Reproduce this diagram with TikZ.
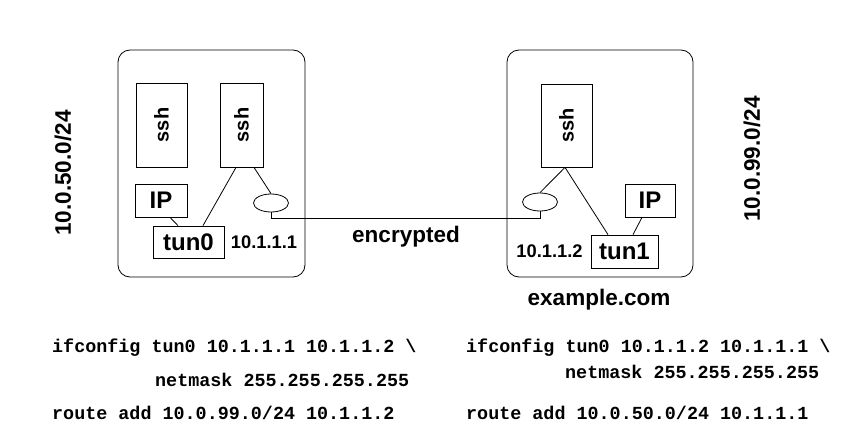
\documentclass[tikz,border=0pt]{standalone}
\usepackage{fontspec}
\setsansfont{Liberation Sans}
\setmonofont{Liberation Mono}
\usepackage{tikz}
\usetikzlibrary{shapes.geometric}

\begin{document}
\begin{tikzpicture}[
  x=1pt, y=-1pt,
  host/.style={draw, rectangle, rounded corners=12pt, line width=0.8pt,
               inner sep=0pt},
  box/.style={draw, rectangle, line width=0.8pt, inner sep=0pt,
              font=\sffamily\bfseries\fontsize{24}{28}\selectfont},
  proc/.style={box, font=\sffamily\bfseries\fontsize{20}{24}\selectfont},
  sock/.style={draw, ellipse, line width=0.8pt, minimum width=35pt,
               minimum height=18pt, inner sep=0pt},
  addr/.style={font=\sffamily\bfseries\fontsize{18.3}{22}\selectfont},
  lbl/.style={font=\sffamily\bfseries\fontsize{22.5}{27}\selectfont},
  cmd/.style={anchor=west, inner sep=0pt,
              font=\ttfamily\bfseries\fontsize{18.4}{22}\selectfont},
  link/.style={line width=0.8pt}
]
\useasboundingbox (0,0) rectangle (848,444);

%% ---- hosts ----
\node[host, minimum width=187, minimum height=227] (hostL) at (211.5,163.5) {};
\node[host, minimum width=186, minimum height=227] (hostR) at (600,163.5) {};

%% ---- left host ----
\node[proc, minimum width=51, minimum height=84] (sshA) at (161.5,125) {\rotatebox{90}{ssh}};
\node[proc, minimum width=43, minimum height=84] (sshB) at (241.5,125) {\rotatebox{90}{ssh}};
\node[box, minimum width=52, minimum height=33] (ipL) at (161,200.5) {IP};
\node[box, minimum width=71, minimum height=32] (tunL) at (188.5,242) {tun0};
\node[sock] (sockL) at (271,203) {};
\node[addr] (addrL) at (264,242) {10.1.1.1};

%% ---- right host ----
\node[proc, minimum width=51, minimum height=83] (sshR) at (566.5,125.5) {\rotatebox{90}{ssh}};
\node[box, minimum width=50, minimum height=33] (ipR) at (650,200.5) {IP};
\node[box, minimum width=67, minimum height=33] (tunR) at (624.5,251.5) {tun1};
\node[sock] (sockR) at (540,202) {};
\node[addr] (addrR) at (549.5,251) {10.1.1.2};

%% ---- labels ----
\node[lbl, rotate=90] (netL) at (63,173) {10.0.50.0/24};
\node[lbl, rotate=90] (netR) at (752,159) {10.0.99.0/24};
\node[lbl] (enc) at (406,237) {encrypted};
\node[lbl] (name) at (599,300) {example.com};

%% ---- links inside the hosts ----
\draw[link] ([xshift=-5.5]sshB.south) -- ([xshift=14.5]tunL.north);
\draw[link] ([xshift=12.5]sshB.south) -- (sockL.north);
\draw[link] ([xshift=9]ipL.south) -- ([xshift=-10.5]tunL.north);

\draw[link] ([xshift=-1.5]sshR.south) -- ([xshift=-16.5]tunR.north);
\draw[link] ([xshift=-1.5]sshR.south) -- (sockR.north);
\draw[link] ([xshift=-8]ipR.south) -- ([xshift=8.5]tunR.north);

%% ---- encrypted channel ----
\draw[link] (sockL.south) -- ++(0,6) -| (sockR.south);

%% ---- commands ----
\node[cmd] (cfgL) at (52,348) {ifconfig tun0 10.1.1.1 10.1.1.2 \textbackslash};
\node[cmd] (maskL) at (155,380) {netmask 255.255.255.255};
\node[cmd] (routeL) at (52,413) {route add 10.0.99.0/24 10.1.1.2};

\node[cmd] (cfgR) at (466,348) {ifconfig tun0 10.1.1.2 10.1.1.1 \textbackslash};
\node[cmd] (maskR) at (565,372) {netmask 255.255.255.255};
\node[cmd] (routeR) at (466,413) {route add 10.0.50.0/24 10.1.1.1};

\end{tikzpicture}
\end{document}
